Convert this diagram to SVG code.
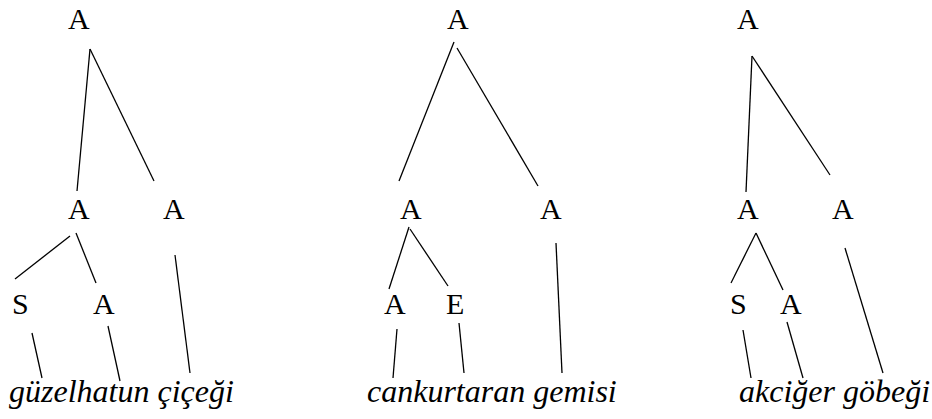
<svg xmlns="http://www.w3.org/2000/svg" width="932" height="419" viewBox="0 0 932 419">
<style>
.n{font-size:30px;fill:#000}
.w{font-size:32px;font-style:italic;fill:#000}
.c line{stroke:#000;stroke-width:1.3}
</style>
<rect width="932" height="419" fill="#fff"/>
<g font-family="Liberation Serif, Times New Roman, Times, serif">
<g id="t1-root"><text class="n" x="68" y="29">A</text></g>
<g id="t1-a1"><text class="n" x="68" y="219">A</text></g>
<g id="t1-a2"><text class="n" x="163" y="219">A</text></g>
<g id="t1-s"><text class="n" x="12" y="314">S</text></g>
<g id="t1-a3"><text class="n" x="93" y="314">A</text></g>
<g id="t1-label"><text class="w" x="9" y="402">güzelhatun çiçeği</text></g>

<g id="t2-root"><text class="n" x="447" y="29">A</text></g>
<g id="t2-a1"><text class="n" x="400" y="219">A</text></g>
<g id="t2-a2"><text class="n" x="540" y="219">A</text></g>
<g id="t2-a3"><text class="n" x="384" y="314">A</text></g>
<g id="t2-e"><text class="n" x="446" y="314">E</text></g>
<g id="t2-label"><text class="w" x="367" y="402">cankurtaran gemisi</text></g>

<g id="t3-root"><text class="n" x="737" y="29">A</text></g>
<g id="t3-a1"><text class="n" x="737" y="219">A</text></g>
<g id="t3-a2"><text class="n" x="832" y="219">A</text></g>
<g id="t3-s"><text class="n" x="730" y="314">S</text></g>
<g id="t3-a3"><text class="n" x="780" y="314">A</text></g>
<g id="t3-label"><text class="w" x="739" y="402">akciğer göbeği</text></g>
</g>
<g id="connectors" class="c">
<line x1="90" y1="49" x2="77" y2="191"/>
<line x1="90" y1="49" x2="154" y2="181"/>
<line x1="70" y1="236" x2="15" y2="279"/>
<line x1="76" y1="233" x2="96" y2="283"/>
<line x1="175" y1="255" x2="190" y2="373"/>
<line x1="32" y1="333" x2="42" y2="378"/>
<line x1="108" y1="326" x2="120" y2="381"/>

<line x1="454" y1="42" x2="399" y2="181"/>
<line x1="457" y1="48" x2="538" y2="186"/>
<line x1="409" y1="227" x2="389" y2="289"/>
<line x1="410" y1="229" x2="448" y2="286"/>
<line x1="556" y1="243" x2="562" y2="373"/>
<line x1="397" y1="329" x2="393" y2="378"/>
<line x1="459" y1="323" x2="464" y2="373"/>

<line x1="752" y1="56" x2="746" y2="192"/>
<line x1="752" y1="56" x2="830" y2="175"/>
<line x1="756" y1="233" x2="731" y2="283"/>
<line x1="756" y1="233" x2="783" y2="290"/>
<line x1="845" y1="248" x2="883" y2="373"/>
<line x1="743" y1="330" x2="751" y2="378"/>
<line x1="787" y1="322" x2="803" y2="378"/>
</g>
</svg>
